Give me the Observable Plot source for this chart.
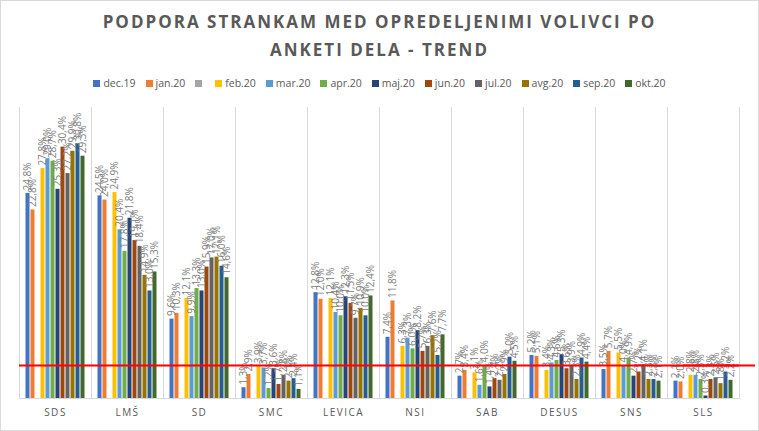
<!DOCTYPE html>
<html><head><meta charset="utf-8">
<script src="https://cdn.jsdelivr.net/npm/d3@7"></script>
<script src="https://cdn.jsdelivr.net/npm/@observablehq/plot@0.6"></script>
<style>
body{margin:0;background:#fff;}
#chart{width:759px;height:431px;position:relative;overflow:hidden;font-family:"Open Sans",sans-serif;box-shadow:inset 0 0 0 1px #d9d9d9;}
#title{position:absolute;top:8px;left:0;width:759px;text-align:center;font-weight:bold;font-size:17px;letter-spacing:2px;color:#595959;line-height:28px;}
#legend{position:absolute;top:75px;left:0;width:759px;display:flex;justify-content:center;gap:10px;font-size:10.5px;color:#595959;line-height:16px;}
#legend .it{display:flex;align-items:center;}
#legend .sw{width:7px;height:7px;margin-right:3px;}
#plot{position:absolute;top:95px;left:0;}
</style>
</head>
<body>
<div id="chart">
  <div id="title">PODPORA STRANKAM MED OPREDELJENIMI VOLIVCI PO<br>ANKETI DELA - TREND</div>
  <div id="legend"></div>
  <div id="plot"></div>
</div>
<script>
const categories = ["SDS","LMŠ","SD","SMC","LEVICA","NSI","SAB","DESUS","SNS","SLS"];
const seriesNames = ["dec.19","jan.20","","feb.20","mar.20","apr.20","maj.20","jun.20","jul.20","avg.20","sep.20","okt.20"];
const colors = ["#4472C4","#ED7D31","#A5A5A5","#FFC000","#5B9BD5","#70AD47","#264478","#9E480E","#636363","#997300","#255E91","#43682B"];

const dec19 = [24.8, 24.5, 9.6, 1.3, 12.8, 7.4, 2.7, 5.2, 3.5, 2.1];
const jan20 = [22.8, 24.0, 10.3, 2.9, 12.0, 11.8, 3.4, 5.1, 5.7, 2.0];
const blank = [null, null, null, null, null, null, null, null, null, null];
const feb20 = [27.8, 24.9, 12.1, 3.9, 12.1, 6.3, 3.1, 3.4, 5.5, 2.8];
const mar20 = [29.0, 20.4, 9.9, 3.7, 10.4, 7.3, 1.6, 4.3, 4.0, 2.8];
const apr20 = [28.7, 17.8, 13.3, 1.2, 10.0, 6.0, 4.0, 4.6, 4.9, 2.3];
const maj20 = [25.3, 21.8, 13.0, 3.6, 12.3, 8.2, 1.4, 5.3, 2.7, 0.3];
const jun20 = [30.4, 19.1, 15.9, 1.7, 11.5, 5.7, 2.4, 3.6, 3.2, 2.3];
const jul20 = [27.2, 18.4, 17.0, 2.8, 9.7, 6.3, 2.2, 3.9, 4.1, 2.5];
const avg20 = [29.9, 14.9, 17.1, 2.1, 10.9, 7.6, 2.9, 2.3, 2.3, 1.8];
const sep20 = [30.8, 13.0, 16.0, 2.4, 10.0, 5.2, 5.0, 4.9, 2.3, 3.2];
const okt20 = [29.3, 15.3, 14.6, 1.1, 12.4, 7.7, 4.5, 4.4, 2.1, 2.2];
const seriesValues = [dec19, jan20, blank, feb20, mar20, apr20, maj20, jun20, jul20, avg20, sep20, okt20];
const threshold = 4;

const rows = [];
categories.forEach((c, i) => seriesNames.forEach((s, j) => {
  const v = seriesValues[j][i];
  if (v != null) rows.push({party: c, month: s, value: v});
}));
const fmt = v => v.toFixed(1).replace(".", ",") + "%";

// legend
const lg = d3.select("#legend");
seriesNames.forEach((s, j) => {
  const it = lg.append("div").attr("class", "it");
  it.append("div").attr("class", "sw").style("background", colors[j]);
  it.append("span").text(s);
});

const lastCat = [{party: categories[categories.length - 1], v: threshold}];

const plot = Plot.plot({
  width: 759, height: 336,
  marginLeft: 16.5, marginRight: 18, marginTop: 12, marginBottom: 33,
  style: {fontFamily: "Open Sans", background: "transparent"},
  fx: {domain: categories, padding: 0, label: null},
  x: {domain: seriesNames, paddingInner: 0.25, paddingOuter: 0.93, axis: null},
  y: {domain: [0, 35.19], axis: null},
  color: {domain: seriesNames, range: colors},
  marks: [
    Plot.frame({anchor: "left", stroke: "#d9d9d9"}),
    Plot.frame({anchor: "right", stroke: "#d9d9d9"}),
    Plot.ruleY([0], {stroke: "#d9d9d9"}),
    Plot.barY(rows, {fx: "party", x: "month", y: "value", fill: "month"}),
    Plot.text(rows, {fx: "party", x: "month", y: "value", text: d => fmt(d.value), rotate: -90, textAnchor: "start", dy: -3, fill: "#808080", fontSize: 10}),
    Plot.ruleY([threshold], {stroke: "#ff0000", strokeWidth: 2}),
    Plot.ruleY(lastCat, {fx: "party", y: "v", dx: 16, stroke: "#ff0000", strokeWidth: 2}),
    Plot.axisFx({anchor: "bottom", tickSize: 0, tickPadding: 10, fontSize: 10, fill: "#595959", label: null})
  ]
});
document.getElementById("plot").appendChild(plot);
d3.select(plot).selectAll('g[aria-label="fx-axis tick label"] text').attr("letter-spacing", "1.5px");
</script>
</body></html>
